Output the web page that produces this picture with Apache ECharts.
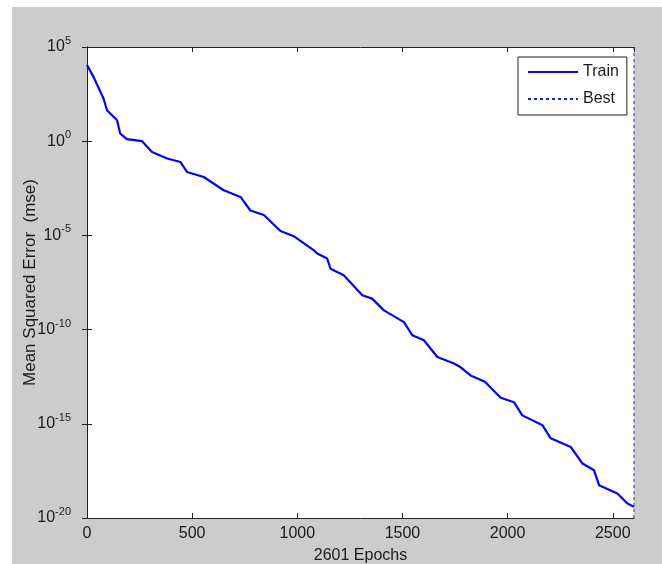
<!DOCTYPE html>
<html>
<head>
<meta charset="utf-8">
<script src="https://cdn.jsdelivr.net/npm/echarts@6/dist/echarts.min.js"></script>
<style>
html,body{margin:0;padding:0;background:#fff;}
#c{width:662px;height:564px;}
</style>
</head>
<body>
<div id="c"></div>
<script>
// Epoch numbers and training MSE
const epochs = [0, 31, 79, 95, 143, 158, 190, 262, 309, 381, 444, 476, 555, 650, 730, 777, 841, 920, 983, 1079, 1095, 1142, 1158, 1221, 1309, 1356, 1412, 1507, 1547, 1602, 1666, 1745, 1777, 1824, 1892, 1967, 2030, 2070, 2166, 2205, 2300, 2356, 2411, 2435, 2522, 2570, 2601];
const trainMse = [1.1e4, 2.6e3, 1.8e2, 44, 13, 2.5, 1.3, 1.0, 0.27, 0.12, 0.079, 0.023, 0.0126, 0.0025, 1.1e-3, 2.1e-4, 1.2e-4, 1.7e-5, 9.1e-6, 1.6e-6, 1.1e-6, 5.9e-7, 1.7e-7, 7.6e-8, 6.6e-9, 4.4e-9, 1.05e-9, 2.5e-10, 5.0e-11, 2.7e-11, 3.5e-12, 1.6e-12, 1.0e-12, 3.7e-13, 1.7e-13, 2.4e-14, 1.4e-14, 2.8e-15, 8.3e-16, 1.7e-16, 5.9e-17, 7.8e-18, 3.4e-18, 5.5e-19, 2.0e-19, 5.9e-20, 3.9e-20];
const bestEpoch = [2601, 2601];
const bestRange = [1e-20, 1e5];
const xTicks = [0, 500, 1000, 1500, 2000, 2500];
const yExponents = [5, 0, -5, -10, -15, -20];
const xMax = 2601;
const seriesNames = ['Train', 'Best'];
const xTitle = '2601 Epochs';
const yTitle = 'Mean Squared Error  (mse)';

const chart = echarts.init(document.getElementById('c'), null, {renderer: 'canvas'});
const font = 'Liberation Sans, Arial, sans-serif';
const txt = '#1a1a1a';

function expLabel(v) {
  const e = Math.round(Math.log10(v));
  return yExponents.indexOf(e) >= 0 ? '{b|10}{s|' + e + '}' : '';
}

const axisLineStyle = {color: '#222', width: 1};

chart.setOption({
  backgroundColor: '#ffffff',
  animation: false,
  graphic: [{
    type: 'rect', z: -100, silent: true,
    shape: {x: 12, y: 7, width: 650, height: 557},
    style: {fill: '#cccccc'}
  }],
  grid: {left: 87, right: 28, top: 47, bottom: 46, show: true, backgroundColor: '#ffffff', borderWidth: 0,
    outerBoundsMode: 'none', containLabel: false},
  legend: {
    orient: 'vertical', left: 518, top: 57,
    data: seriesNames,
    backgroundColor: '#ffffff', borderColor: '#222', borderWidth: 1,
    padding: [7, 8, 8, 9], itemGap: 11, itemWidth: 50, itemHeight: 16,
    itemStyle: {opacity: 0},
    textStyle: {fontFamily: font, fontSize: 16, color: txt}
  },
  xAxis: [{
    type: 'value', min: 0, max: xMax, interval: 500,
    name: xTitle, nameLocation: 'middle', nameGap: 30, nameMoveOverlap: false,
    nameTextStyle: {fontFamily: font, fontSize: 16, color: txt},
    axisLine: {show: true, lineStyle: axisLineStyle},
    axisTick: {show: true, inside: true, length: 5, lineStyle: axisLineStyle},
    axisLabel: {fontFamily: font, fontSize: 16, color: txt, margin: 8,
      showMaxLabel: false,
      formatter: v => xTicks.indexOf(v) >= 0 ? String(v) : ''},
    splitLine: {show: false}
  }, {
    type: 'value', min: 0, max: xMax, interval: 500, position: 'top',
    axisLine: {show: true, lineStyle: axisLineStyle},
    axisTick: {show: true, inside: true, length: 5, lineStyle: axisLineStyle},
    axisLabel: {show: false}, splitLine: {show: false}
  }],
  yAxis: [{
    type: 'log', logBase: 10, min: 1e-20, max: 1e5, interval: 5,
    name: yTitle, nameLocation: 'middle', nameGap: 48, nameRotate: 90, nameMoveOverlap: false,
    nameTextStyle: {fontFamily: font, fontSize: 17, color: txt},
    axisLine: {show: true, lineStyle: axisLineStyle},
    axisTick: {show: true, inside: true, length: 5, lineStyle: axisLineStyle},
    minorTick: {show: false},
    axisLabel: {
      margin: 16, formatter: expLabel,
      rich: {
        b: {fontFamily: font, fontSize: 16, color: txt},
        s: {fontFamily: font, fontSize: 11, color: txt, padding: [0, 0, 12, 0]}
      }
    },
    splitLine: {show: false}
  }, {
    type: 'log', logBase: 10, min: 1e-20, max: 1e5, interval: 5, position: 'right',
    axisLine: {show: true, lineStyle: axisLineStyle},
    axisTick: {show: true, inside: true, length: 5, lineStyle: axisLineStyle},
    axisLabel: {show: false}, splitLine: {show: false}
  }],
  series: [{
    name: seriesNames[0], type: 'line', symbol: 'none',
    data: epochs.map((e, i) => [e, trainMse[i]]),
    lineStyle: {color: '#0000ff', width: 2.2},
    itemStyle: {color: '#0000ff'},
    z: 3
  }, {
    name: seriesNames[1], type: 'line', symbol: 'none',
    data: bestEpoch.map((e, i) => [e, bestRange[i]]),
    lineStyle: {color: '#2222dd', width: 1, type: [3, 3]},
    itemStyle: {color: '#2222dd'},
    z: 4
  }]
});
</script>
</body>
</html>
